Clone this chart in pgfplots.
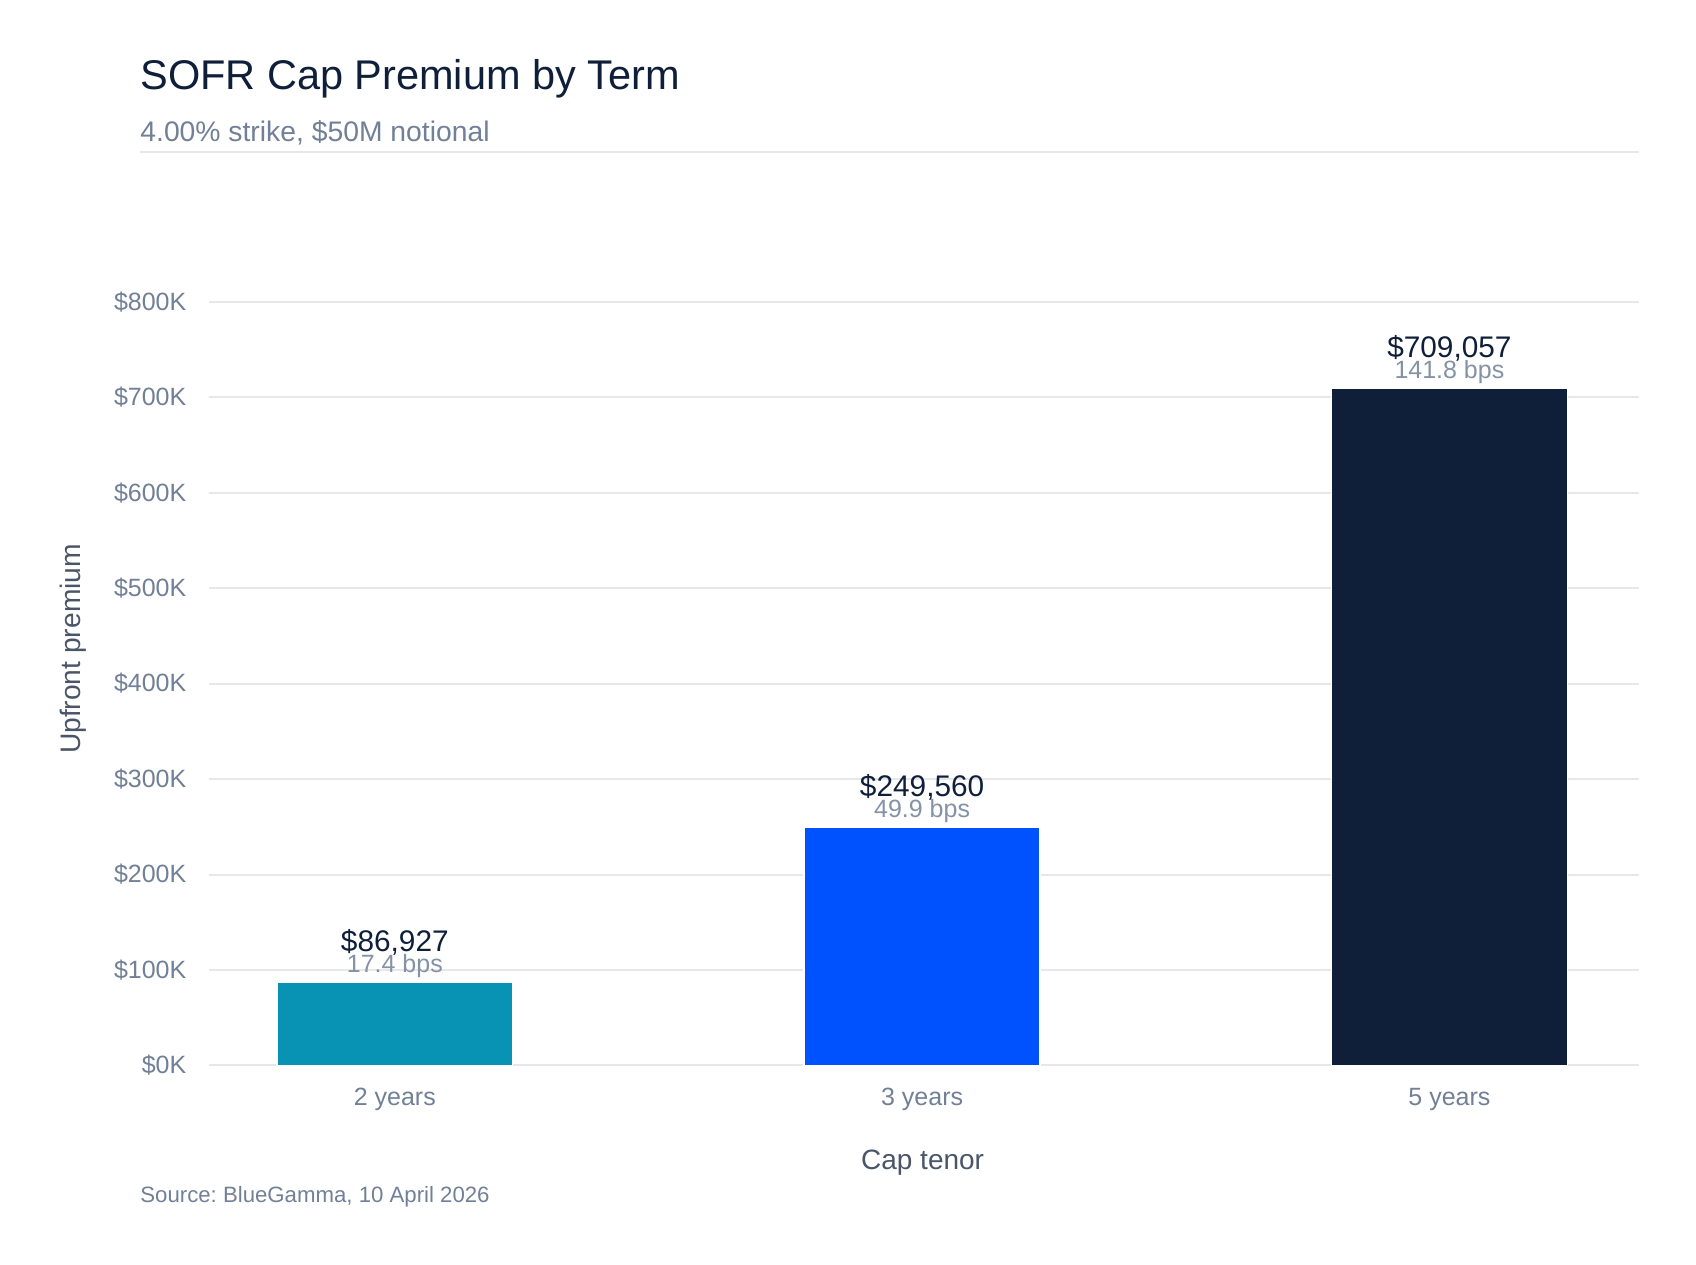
\documentclass[border=0pt]{standalone}
\usepackage{fontspec}
\setmainfont{Liberation Sans}
\usepackage{pgfplots}
\pgfplotsset{compat=1.18}
\definecolor{navy}{HTML}{0F1F3A}
\definecolor{tealbar}{HTML}{0893B5}
\definecolor{bluebar}{HTML}{0052FF}
\definecolor{tickgray}{HTML}{718096}
\definecolor{labgray}{HTML}{4A5568}
\definecolor{bpsgray}{HTML}{8492A6}
\definecolor{gridc}{HTML}{E5E7EB}
\frenchspacing
\begin{document}
\begin{tikzpicture}
\useasboundingbox (0,0) rectangle (848pt,632pt);
\node[anchor=base west, inner sep=0pt, font=\fontsize{20.75}{24}\selectfont, text=navy] at (70pt,587pt) {SOFR Cap Premium by Term};
\node[anchor=base west, inner sep=0pt, font=\fontsize{14.15}{17}\selectfont, text=tickgray] at (70pt,561.15pt) {4.00\% strike, \$50M notional};
\draw[gridc, line width=1pt] (70pt,556.15pt) -- (819.3pt,556.15pt);
\begin{axis}[
  at={(104.35pt,99.3pt)}, anchor=south west,
  scale only axis, width=715pt, height=381.8pt,
  xmin=-0.353, xmax=2.359, ymin=0, ymax=800000,
  clip=false,
  axis line style={draw=none},
  major tick length=0pt,
  ytick={0,100000,200000,300000,400000,500000,600000,700000,800000},
  yticklabels={\$0K,\$100K,\$200K,\$300K,\$400K,\$500K,\$600K,\$700K,\$800K},
  scaled y ticks=false,
  xtick={0,1,2},
  xticklabels={2 years,3 years,5 years},
  ymajorgrids,
  grid style={gridc, line width=1pt},
  yticklabel style={font=\fontsize{12.5}{15}\selectfont, text=tickgray, anchor=east, inner sep=0pt, xshift=-11pt},
  xticklabel style={font=\fontsize{12.5}{15}\selectfont, text=tickgray, anchor=base, inner sep=0pt, yshift=-20pt},
]
\addplot[ybar, bar width=117.9pt, bar shift=0pt, fill=tealbar, draw=white, line width=0.75pt] coordinates {(0,86927)};
\addplot[ybar, bar width=117.9pt, bar shift=0pt, fill=bluebar, draw=white, line width=0.75pt] coordinates {(1,249560)};
\addplot[ybar, bar width=117.9pt, bar shift=0pt, fill=navy, draw=white, line width=0.75pt] coordinates {(2,709057)};
\addplot[draw=none, mark=none, nodes near coords, point meta=explicit symbolic,
  nodes near coords style={anchor=base, yshift=5pt, inner sep=0pt, font=\fontsize{12.5}{15}\selectfont, text=bpsgray}]
  coordinates {(0,86927)[{17.4 bps}] (1,249560)[{49.9 bps}] (2,709057)[{141.8 bps}]};
\addplot[draw=none, mark=none, nodes near coords, point meta=explicit symbolic,
  nodes near coords style={anchor=base, yshift=15.5pt, inner sep=0pt, font=\fontsize{14.9}{17}\selectfont, text=navy}]
  coordinates {(0,86927)[{\$86,927}] (1,249560)[{\$249,560}] (2,709057)[{\$709,057}]};
\end{axis}
\node[rotate=90, anchor=base, inner sep=0pt, font=\fontsize{14.1}{17}\selectfont, text=labgray] at (40pt,307.5pt) {Upfront premium};
\node[anchor=base, inner sep=0pt, font=\fontsize{14}{17}\selectfont, text=labgray] at (461.3pt,47.5pt) {Cap tenor};
\node[anchor=base west, inner sep=0pt, font=\fontsize{11.1}{13}\selectfont, text=tickgray] at (70pt,31pt) {Source: BlueGamma, 10 April 2026};
\end{tikzpicture}
\end{document}
